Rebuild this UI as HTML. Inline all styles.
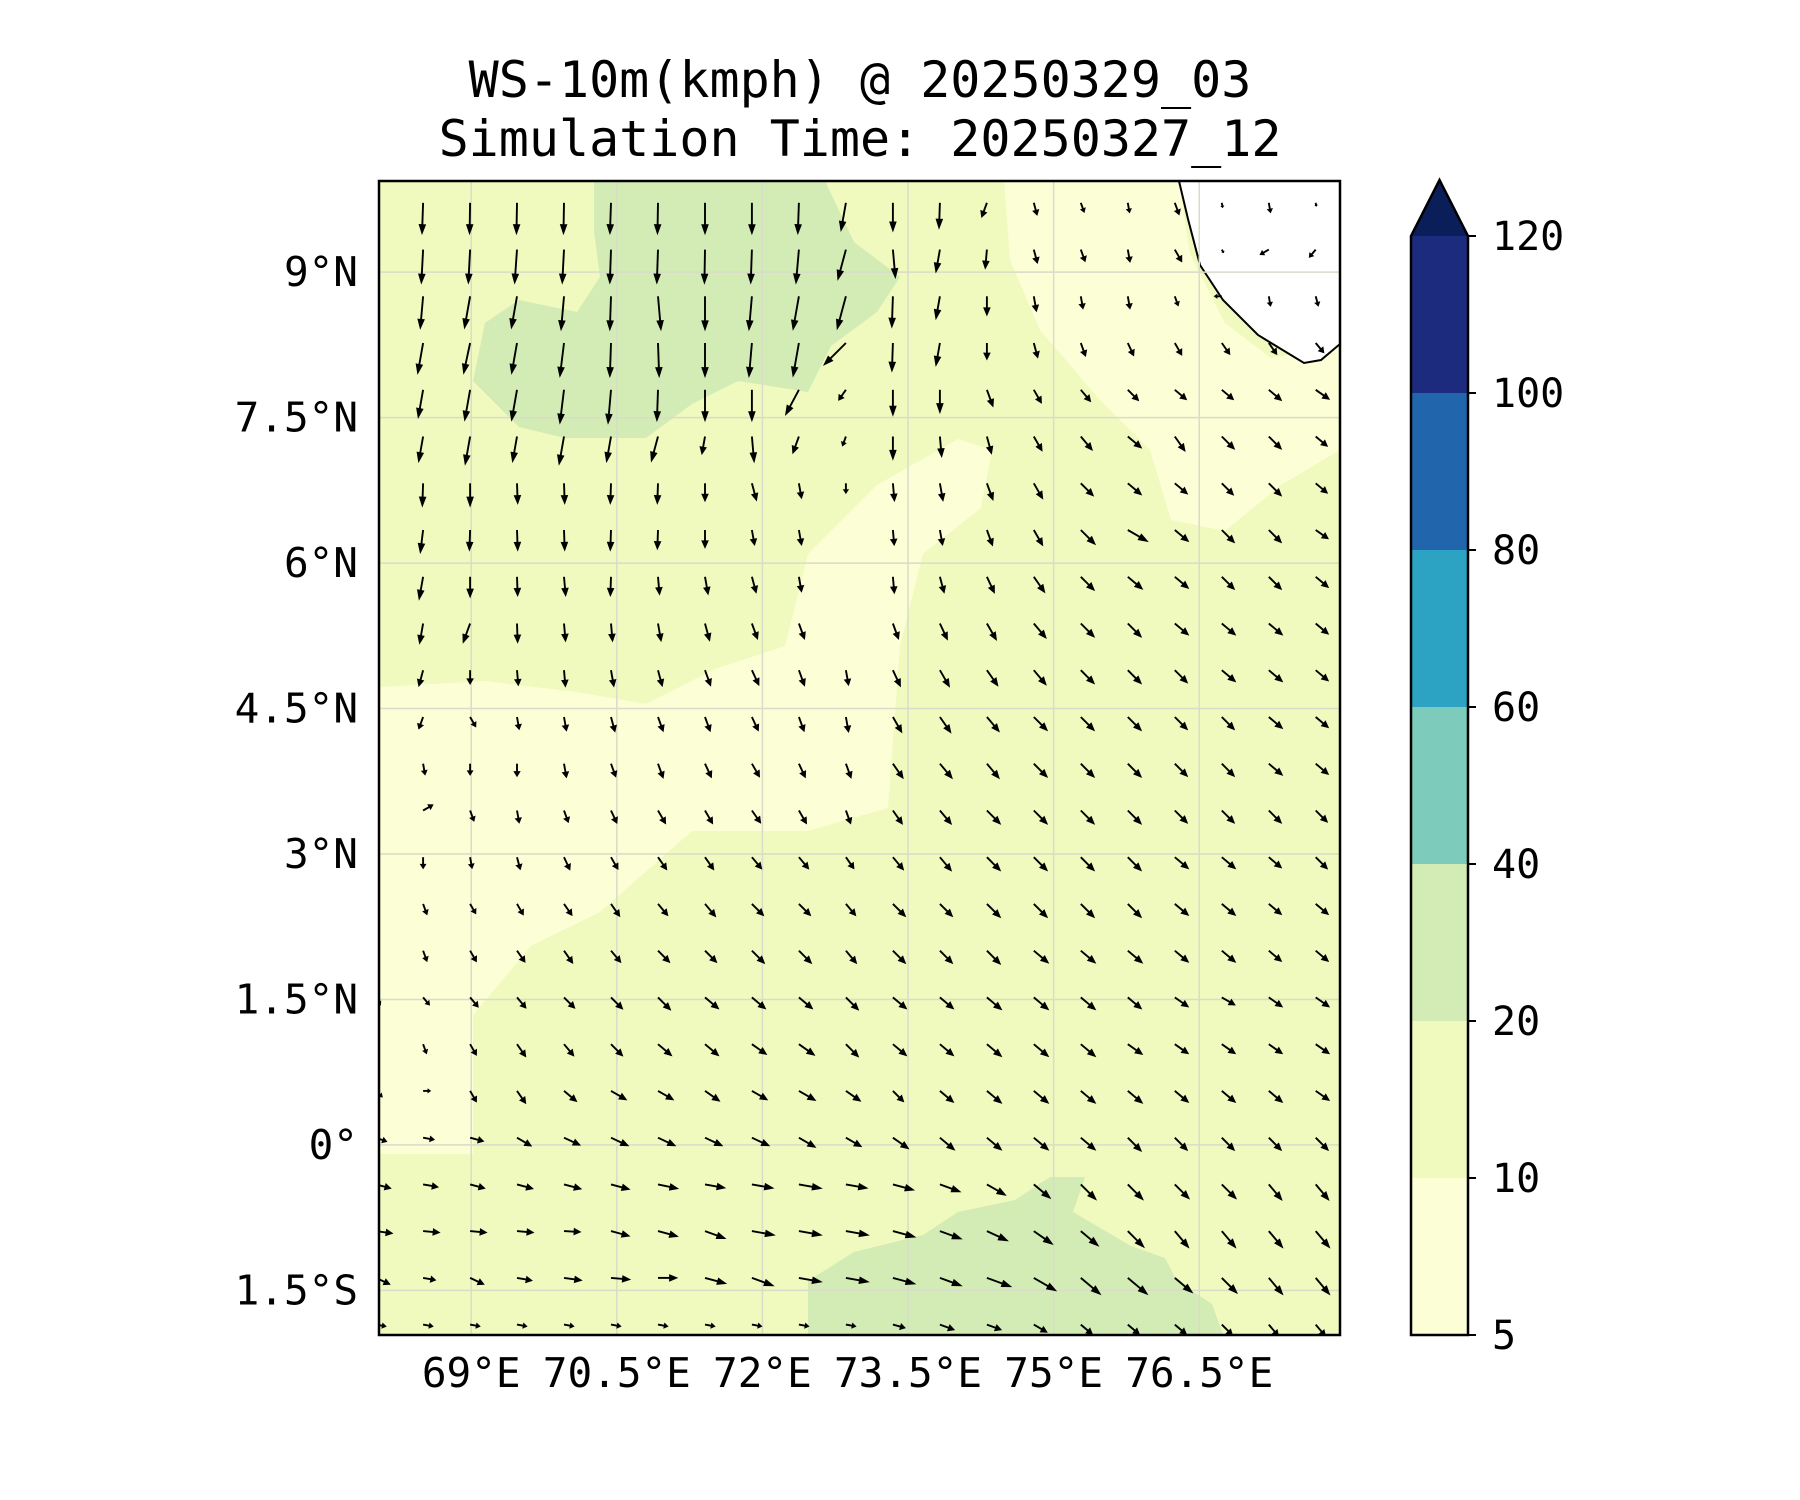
<!DOCTYPE html>
<html><head><meta charset="utf-8">
<style>
html,body{margin:0;padding:0;background:#fff;}
svg{display:block;font-family:"DejaVu Sans Mono","Liberation Mono",monospace;}
</style></head>
<body>
<svg id="chart" width="1800" height="1500" viewBox="0 0 1800 1500" xmlns="http://www.w3.org/2000/svg">
  <text x="860" y="97" font-size="50" text-anchor="middle">WS-10m(kmph) @ 20250329_03</text>
  <text x="860" y="156" font-size="50" text-anchor="middle">Simulation Time: 20250327_12</text>
  <defs><clipPath id="mapclip"><rect x="379" y="181" width="961" height="1154"/></clipPath></defs>
  <g id="map" clip-path="url(#mapclip)">
    <rect x="379" y="181" width="961" height="1154" fill="#f0f9be"/>
    <polygon fill="#fcfed6" points="379,687 485,681 577,692 646,704 715,669 785,646 808,554 877,485 958,439 992,450 981,508 923,554 900,646 888,808 808,831 692,831 600,912 531,946 473,1015 473,1154 379,1154"/>
    <polygon fill="#fcfed6" points="1004,181 1179,181 1190,254 1225,323 1271,358 1340,346 1340,450 1281,485 1225,531 1171,520 1150,450 1100,400 1040,330 1010,260"/>
    <polygon fill="#d3ecb5" points="594,181 825,181 854,242 900,277 877,312 831,346 808,392 738,381 692,404 646,438 565,438 519,427 473,381 485,323 519,300 577,312 600,277 594,231"/>
    <polygon fill="#d3ecb5" points="808,1335 808,1281 854,1252 923,1235 958,1212 1015,1200 1050,1177 1085,1177 1073,1212 1131,1246 1165,1258 1177,1281 1212,1304 1223,1335"/>
    <polygon fill="#ffffff" stroke="#000" stroke-width="2" points="1179,181 1188,219 1200,265 1223,300 1258,335 1304,363 1321,360 1340,344 1340,181"/>
    <g id="grid"></g>
    <g id="arrows"></g>
  </g>
  <rect x="379" y="181" width="961" height="1154" fill="none" stroke="#000" stroke-width="2.5"/>
  <g id="axes"></g>
  <g id="cbar"></g>
</svg>
<script>
// ---- data ----
const lonTicks = [69, 70.5, 72, 73.5, 75, 76.5];
const lonTickLabels = ["69°E","70.5°E","72°E","73.5°E","75°E","76.5°E"];
const latTicks = [9, 7.5, 6, 4.5, 3, 1.5, 0, -1.5];
const latTickLabels = ["9°N","7.5°N","6°N","4.5°N","3°N","1.5°N","0°","1.5°S"];
const cbarLevels = [5, 10, 20, 40, 60, 80, 100, 120];
const cbarColors = ["#fcfed6","#f0f9be","#d3ecb5","#7ccbbb","#2ca3c3","#2166ad","#1c2b7e"];
const cbarExtendColor = "#0a1f5a";
const gridLon0 = 68.02, gridLonStep = 0.484;
const gridLat0 = 9.715, gridLatStep = 0.482;
// wind direction (degrees, screen: 0=east, 90=south) per row
const windDir = [
[95,92,91,91,91,92,91,90,90,92,100,90,92,110,75,70,80,70,80,80,80],
[95,93,93,94,93,92,92,91,92,95,105,85,100,95,75,70,80,60,60,150,130],
[95,95,100,100,95,92,85,90,95,100,105,92,100,90,80,80,80,70,180,80,75],
[100,100,102,100,97,92,88,90,95,100,135,92,100,90,75,70,65,60,55,55,50],
[100,100,100,100,97,95,92,90,90,118,125,90,90,70,60,50,45,40,40,40,35],
[100,100,100,100,100,100,105,100,85,110,110,90,85,75,60,50,40,55,45,45,40],
[95,92,90,88,88,92,92,90,75,80,90,85,80,70,60,45,40,40,45,45,40],
[95,97,92,88,88,92,92,90,80,80,90,85,80,70,60,45,30,40,45,45,35],
[95,100,90,88,85,92,85,80,75,80,90,85,75,65,55,45,40,40,45,45,40],
[95,100,110,88,85,85,80,75,70,70,90,70,65,60,50,45,45,40,40,40,40],
[95,105,90,85,85,80,75,70,65,70,80,65,60,55,50,45,45,45,40,40,40],
[95,110,60,80,80,75,70,70,65,70,80,60,55,50,45,45,45,45,45,40,40],
[95,80,90,90,80,70,70,65,60,65,70,55,50,50,45,45,45,45,45,40,40],
[95,-30,70,80,70,65,60,60,55,60,70,55,50,45,45,45,45,45,45,45,45],
[95,90,80,75,65,60,55,55,50,50,55,50,50,45,45,45,45,40,40,40,45],
[95,70,60,60,55,55,50,50,45,45,50,45,45,45,45,45,45,40,40,40,40],
[95,70,60,55,55,50,45,45,45,45,50,45,45,45,40,40,40,40,40,40,40],
[60,50,50,50,45,45,45,40,40,40,45,40,40,40,40,40,40,35,30,35,35],
[80,70,60,55,50,45,40,40,35,35,45,40,40,40,40,40,35,35,35,35,35],
[45,0,60,55,40,30,30,35,30,30,35,45,40,40,40,40,40,40,40,40,35],
[20,10,15,30,25,25,25,25,25,30,30,35,40,40,40,40,45,45,45,45,45],
[15,10,15,15,15,15,12,10,10,10,10,15,20,30,40,45,45,45,45,50,50],
[8,5,5,5,3,15,15,20,10,10,10,15,20,25,35,40,45,50,50,50,50],
[25,10,25,10,8,5,0,15,20,10,10,15,20,20,30,40,40,40,45,50,50],
[10,10,10,10,10,10,10,10,10,10,10,15,20,20,30,40,40,40,45,50,50]
];
// wind speed (kmph) per row
const windSpeed = [
[10,24,24,24,24,24,24,24,24,24,22,22,20,12,10,8,8,10,4,8,3],
[10,26,26,26,26,26,26,26,26,26,24,22,18,15,11,10,10,11,3,8,8],
[10,25,25,25,26,26,26,26,26,26,26,24,18,15,12,10,10,8,6,8,8],
[10,24,24,24,26,26,26,26,26,26,24,22,18,13,12,11,11,11,11,11,10],
[10,22,24,24,26,26,24,24,24,22,10,20,18,14,12,12,12,12,12,13,13],
[10,20,22,20,22,20,20,14,20,14,8,18,16,14,13,14,14,14,14,14,12],
[10,18,18,16,16,16,16,14,14,12,8,14,14,14,14,14,14,13,13,14,12],
[8,18,16,16,16,16,15,14,12,12,0,12,12,13,14,16,18,14,14,14,12],
[8,18,16,15,15,15,14,14,13,12,0,13,13,14,15,15,15,14,14,14,13],
[8,16,16,15,14,14,14,14,13,13,0,13,14,15,15,15,15,14,14,14,13],
[7,13,11,12,13,13,13,13,13,13,12,14,15,15,15,15,15,14,14,14,13],
[7,10,9,10,11,12,12,12,12,12,12,14,15,15,15,15,15,14,14,14,13],
[7,9,9,10,11,11,12,12,12,12,12,14,15,15,15,15,15,14,14,14,13],
[7,9,9,10,10,11,12,12,12,12,11,13,14,15,15,15,15,14,14,14,13],
[7,9,9,10,11,11,12,12,12,12,11,13,14,15,15,15,15,14,14,13,13],
[7,9,9,10,11,12,12,13,13,13,12,14,14,15,15,15,15,14,14,13,13],
[7,9,10,11,12,12,13,13,14,14,13,14,14,15,15,15,15,14,14,13,13],
[7,8,10,11,12,13,14,14,14,14,14,14,14,15,15,15,14,13,12,13,13],
[7,8,10,12,12,13,14,14,14,15,14,14,14,15,15,15,14,13,13,13,13],
[7,6,10,12,13,14,14,14,14,15,14,12,14,15,15,15,15,14,14,14,13],
[9,9,11,13,14,15,15,15,15,15,14,15,15,15,15,15,15,14,14,14,14],
[12,12,12,13,14,15,16,16,17,18,17,17,17,17,17,17,17,16,16,16,16],
[13,13,13,13,13,15,16,17,18,18,18,18,18,18,18,18,18,17,17,17,17],
[12,10,12,12,14,15,15,17,18,18,18,18,18,20,20,20,20,18,17,17,17],
[8,8,8,8,8,8,8,8,8,8,8,10,12,12,12,12,12,12,12,12,12]
];
// ---- axis functions ----
const X0 = 379, X1 = 1340, Y0 = 181, Y1 = 1335;
const lonMin = 68.05, lonMax = 77.95, latMin = -1.96, latMax = 9.94;
const xScale = lon => X0 + (lon - lonMin) / (lonMax - lonMin) * (X1 - X0);
const yScale = lat => Y0 + (latMax - lat) / (latMax - latMin) * (Y1 - Y0);
const lenScale = s => s * 1.35;
const NS = "http://www.w3.org/2000/svg";
function mk(tag, attrs, parent) {
  const e = document.createElementNS(NS, tag);
  for (const k in attrs) e.setAttribute(k, attrs[k]);
  parent.appendChild(e);
  return e;
}
// gridlines
const grid = document.getElementById('grid');
lonTicks.forEach(lon => {
  const l = mk('line', {x1: xScale(lon), x2: xScale(lon), y1: Y0, y2: Y1, stroke: '#d8dcc8', 'stroke-width': 1.5}, grid);
  
  
});
latTicks.forEach(lat => {
  const l = mk('line', {x1: X0, x2: X1, y1: yScale(lat), y2: yScale(lat), stroke: '#d8dcc8', 'stroke-width': 1.5}, grid);
  
  
});
// arrows
const arrows = document.getElementById('arrows');
windDir.forEach((row, r) => {
  row.forEach((dir, c) => {
    const s = windSpeed[r][c];
    if (!s) return;
    const L = lenScale(s);
    const tx = xScale(gridLon0 + c * gridLonStep);
    const ty = yScale(gridLat0 - r * gridLatStep);
    const g = mk('g', {transform: `translate(${tx.toFixed(1)},${ty.toFixed(1)}) rotate(${dir})`}, arrows);
    
    
    const hl = Math.min(11, L * 0.45), hw = Math.min(3.8, L * 0.2 + 1);
    mk('line', {x1: 0, y1: 0, x2: L - hl + 1, y2: 0, stroke: '#000', 'stroke-width': 1.9}, g);
    mk('polygon', {points: `${L},0 ${L - hl},${-hw} ${L - hl},${hw}`, fill: '#000'}, g);
  });
});
// axes labels
const axes = document.getElementById('axes');
lonTicks.forEach((lon, i) => {
  const t = mk('text', {x: xScale(lon), y: 1387, 'font-size': 41, 'text-anchor': 'middle'}, axes);
  t.textContent = lonTickLabels[i];
  
  
});
latTicks.forEach((lat, i) => {
  const t = mk('text', {x: 358, y: yScale(lat) + 14, 'font-size': 41, 'text-anchor': 'end'}, axes);
  t.textContent = latTickLabels[i];
  
  
});
// colorbar
const cb = document.getElementById('cbar');
const CX0 = 1411, CX1 = 1468, CY0 = 236, CY1 = 1335, tipY = 180;
const cy = i => CY1 - i / (cbarLevels.length - 1) * (CY1 - CY0);
cbarColors.forEach((col, i) => {
  const r = mk('rect', {x: CX0, y: cy(i + 1), width: CX1 - CX0, height: cy(i) - cy(i + 1), fill: col}, cb);
  
  
});
const ext = mk('polygon', {points: `${CX0},${CY0} ${(CX0 + CX1) / 2},${tipY} ${CX1},${CY0}`, fill: cbarExtendColor}, cb);


const outline = mk('polygon', {points: `${CX0},${CY1} ${CX0},${CY0} ${(CX0 + CX1) / 2},${tipY} ${CX1},${CY0} ${CX1},${CY1}`, fill: 'none', stroke: '#000', 'stroke-width': 2.5}, cb);


cbarLevels.forEach((v, i) => {
  const tk = mk('line', {x1: CX1, x2: CX1 + 8, y1: cy(i), y2: cy(i), stroke: '#000', 'stroke-width': 2}, cb);
  
  
  const t = mk('text', {x: 1492, y: cy(i) + 14, 'font-size': 40}, cb);
  t.textContent = v;
  
  
});
</script>
</body></html>
